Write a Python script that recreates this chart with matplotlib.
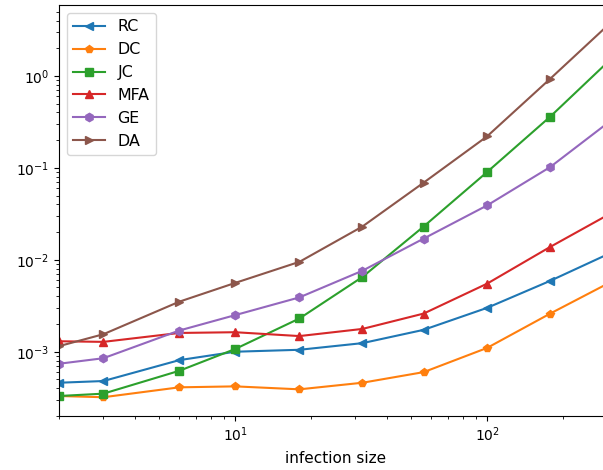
import matplotlib
matplotlib.use("Agg")
import matplotlib.pyplot as plt

x = [2, 3, 6, 10, 18, 32, 56, 100, 178, 316]
RC = [4.6e-4, 4.8e-4, 8.1e-4, 1.0e-3, 1.05e-3, 1.24e-3, 1.73e-3, 3.0e-3, 5.9e-3, 1.22e-2]
DC = [3.3e-4, 3.2e-4, 4.1e-4, 4.2e-4, 3.9e-4, 4.6e-4, 6.0e-4, 1.1e-3, 2.6e-3, 5.9e-3]
JC = [3.3e-4, 3.5e-4, 6.2e-4, 1.07e-3, 2.3e-3, 6.5e-3, 2.3e-2, 9.0e-2, 3.6e-1, 1.6]
MFA = [1.3e-3, 1.28e-3, 1.6e-3, 1.63e-3, 1.48e-3, 1.77e-3, 2.6e-3, 5.5e-3, 1.38e-2, 3.3e-2]
GE = [7.4e-4, 8.5e-4, 1.7e-3, 2.5e-3, 3.9e-3, 7.6e-3, 1.7e-2, 3.9e-2, 1.02e-1, 3.4e-1]
DA = [1.15e-3, 1.55e-3, 3.5e-3, 5.6e-3, 9.5e-3, 2.3e-2, 6.9e-2, 2.2e-1, 9.3e-1, 4.0]

series = [("RC", RC, "<"), ("DC", DC, "p"), ("JC", JC, "s"),
          ("MFA", MFA, "^"), ("GE", GE, "h"), ("DA", DA, ">")]

fig = plt.figure(figsize=(6.03, 4.70), dpi=100)
ax = fig.add_axes([59/603, 54/470, 554/603, 411/470])
for name, vals, m in series:
    ax.plot(x, vals, marker=m, label=name)
ax.set_xscale("log")
ax.set_yscale("log")
ax.set_xlim(2, 316)
ax.set_ylim(2.0e-4, 5.9)
ax.set_xlabel("infection size", fontsize=11, labelpad=5)
ax.legend(loc="upper left", fontsize=11.4)
fig.savefig("out.png", dpi=100)
